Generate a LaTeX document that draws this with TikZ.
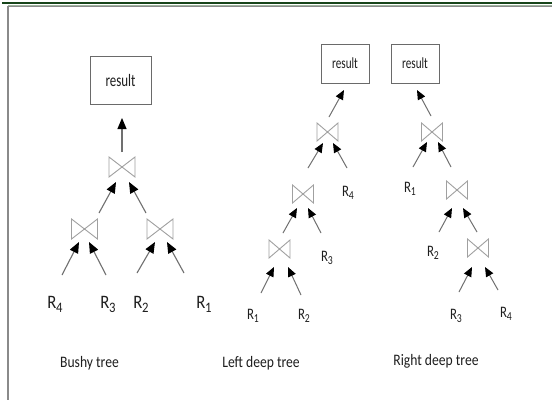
\documentclass[tikz,border=0pt]{standalone}
\usepackage{fontspec}
\setmainfont{Carlito}
\usetikzlibrary{arrows.meta,calc}
\definecolor{framegreen}{HTML}{17451A}
\definecolor{framelight}{HTML}{9DB59D}
\definecolor{framegray}{HTML}{8A8A8A}
\definecolor{boxgray}{HTML}{6A6A6A}
\definecolor{tiegray}{HTML}{A0A0A0}
\definecolor{linegray}{HTML}{707070}
\definecolor{inkc}{HTML}{1E1E1E}
% relation name with a lowered, fairly large index
\newcommand\Rsub[1]{R\kern-0.2pt\raisebox{-0.21em}{\scalebox{0.76}{#1}}}
\begin{document}
\begin{tikzpicture}[x=1pt,y=-1pt,
  resbig/.style={draw=boxgray, line width=1pt, minimum width=61pt, minimum height=48pt, inner sep=0pt, text=inkc,
    font=\fontsize{17.5}{17.5}\selectfont},
  ressmall/.style={draw=boxgray, line width=1pt, minimum width=48pt, minimum height=39pt, inner sep=0pt, text=inkc,
    font=\fontsize{15.5}{15.5}\selectfont},
  tiebig/.style={minimum width=26pt, minimum height=20pt, inner sep=0pt, outer sep=0pt},
  tiesmall/.style={minimum width=21pt, minimum height=18pt, inner sep=0pt, outer sep=0pt},
  leafbig/.style={inner sep=0pt, text=inkc, font=\fontsize{19}{19}\selectfont},
  leafsmall/.style={inner sep=0pt, text=inkc, font=\fontsize{16}{16}\selectfont},
  caption/.style={inner sep=0pt, text=inkc, font=\fontsize{16}{16}\selectfont},
  tie/.style={draw=tiegray, line width=0.9pt, line join=miter},
  arrbig/.style={draw=linegray, line width=1.1pt, -{Triangle[length=11pt,width=9pt,color=black]}},
  arrsmall/.style={draw=linegray, line width=1pt, -{Triangle[length=9.5pt,width=8pt,color=black]}}
]
\useasboundingbox (0,0) rectangle (552,400);
\fill[white] (0,0) rectangle (552,400);

% page frame
\draw[framegreen, line width=2pt] (2,3) -- (552,3);
\draw[framelight, line width=0.8pt] (8,5) -- (552,5);
\draw[framegray, line width=1.2pt] (8,6.5) -- (552,6.5);
\draw[framegray, line width=2pt] (8,6) -- (8,400);

% ---------- bushy tree ----------
\node[resbig] (resB) at (120.5,80) {\scalebox{0.74}[1]{result}};
\node[tiebig] (jB)  at (122,167) {};
\node[tiebig] (jBL) at (84.5,229) {};
\node[tiebig] (jBR) at (160,229) {};
\node[leafbig] (b4) at (55,304)  {\scalebox{0.88}[1]{\Rsub{4}}};
\node[leafbig] (b3) at (108,304) {\scalebox{0.88}[1]{\Rsub{3}}};
\node[leafbig] (b2) at (141,304) {\scalebox{0.88}[1]{\Rsub{2}}};
\node[leafbig] (b1) at (204,304) {\scalebox{0.88}[1]{\Rsub{1}}};

\draw[arrbig] ($(jB)+(0,-15)$) -- ($(resB)+(1.5,38)$);
\draw[arrbig] ($(jBL)+(14.5,-16)$) -- ($(jB)+(-6,15)$);
\draw[arrbig] ($(jBR)+(-14,-16)$) -- ($(jB)+(7,15)$);
\draw[arrbig] ($(b4)+(7,-29)$) -- ($(jBL)+(-5.5,13)$);
\draw[arrbig] ($(b3)+(-2,-29)$) -- ($(jBL)+(4.5,13)$);
\draw[arrbig] ($(b2)+(-4,-31)$) -- ($(jBR)+(-5,13)$);
\draw[arrbig] ($(b1)+(-20,-31)$) -- ($(jBR)+(7,13)$);

% ---------- left deep tree ----------
\node[ressmall] (resL) at (345,63.5) {\scalebox{0.72}[1]{result}};
\node[tiesmall] (jL1) at (327.5,132) {};
\node[tiesmall] (jL2) at (303,194) {};
\node[tiesmall] (jL3) at (279.5,249) {};
\node[leafsmall] (l4) at (348,193) {\scalebox{0.8}[1]{\Rsub{4}}};
\node[leafsmall] (l3) at (327,258) {\scalebox{0.8}[1]{\Rsub{3}}};
\node[leafsmall] (l1) at (253,316) {\scalebox{0.8}[1]{\Rsub{1}}};
\node[leafsmall] (l2) at (304,316) {\scalebox{0.8}[1]{\Rsub{2}}};

\draw[arrsmall] ($(jL1)+(1.5,-15)$) -- ($(resL)+(-1,26.5)$);
\draw[arrsmall] ($(jL2)+(5,-26)$) -- ($(jL1)+(-4.5,11)$);
\draw[arrsmall] ($(l4)+(-1,-25)$) -- ($(jL1)+(5.5,11)$);
\draw[arrsmall] ($(jL3)+(3.5,-16)$) -- ($(jL2)+(-6,14)$);
\draw[arrsmall] ($(l3)+(-6,-25)$) -- ($(jL2)+(5,14)$);
\draw[arrsmall] ($(l1)+(8,-23)$) -- ($(jL3)+(-5.5,18)$);
\draw[arrsmall] ($(l2)+(-3,-21)$) -- ($(jL3)+(8.5,18)$);

% ---------- right deep tree ----------
\node[ressmall] (resR) at (415,63.5) {\scalebox{0.72}[1]{result}};
\node[tiesmall] (jR1) at (432,132) {};
\node[tiesmall] (jR2) at (457,190) {};
\node[tiesmall] (jR3) at (478,248) {};
\node[leafsmall] (r1) at (410,189) {\scalebox{0.8}[1]{\Rsub{1}}};
\node[leafsmall] (r2) at (433,253) {\scalebox{0.8}[1]{\Rsub{2}}};
\node[leafsmall] (r3) at (456,316) {\scalebox{0.8}[1]{\Rsub{3}}};
\node[leafsmall] (r4) at (506,314) {\scalebox{0.8}[1]{\Rsub{4}}};

\draw[arrsmall] ($(jR1)+(-1,-16)$) -- ($(resR)+(2,26.5)$);
\draw[arrsmall] ($(r1)+(3,-22)$) -- ($(jR1)+(-5,10)$);
\draw[arrsmall] ($(jR2)+(-6,-23)$) -- ($(jR1)+(6,10)$);
\draw[arrsmall] ($(r2)+(6,-21)$) -- ($(jR2)+(-5,18)$);
\draw[arrsmall] ($(jR3)+(-1,-16)$) -- ($(jR2)+(6,18)$);
\draw[arrsmall] ($(r3)+(3,-24)$) -- ($(jR3)+(-6,19)$);
\draw[arrsmall] ($(r4)+(-8,-24)$) -- ($(jR3)+(7,19)$);

% join symbols (bowties)
\foreach \j in {jB,jBL,jBR,jL1,jL2,jL3,jR1,jR2,jR3}
  \draw[tie] (\j.north west) -- (\j.south east) -- (\j.north east) -- (\j.south west) -- cycle;

% captions
\node[caption] (capB) at (89.5,363) {\scalebox{0.85}[1]{Bushy tree}};
\node[caption] (capL) at (261,363) {\scalebox{0.85}[1]{Left deep tree}};
\node[caption] (capR) at (436,361) {\scalebox{0.85}[1]{Right deep tree}};
\end{tikzpicture}
\end{document}
